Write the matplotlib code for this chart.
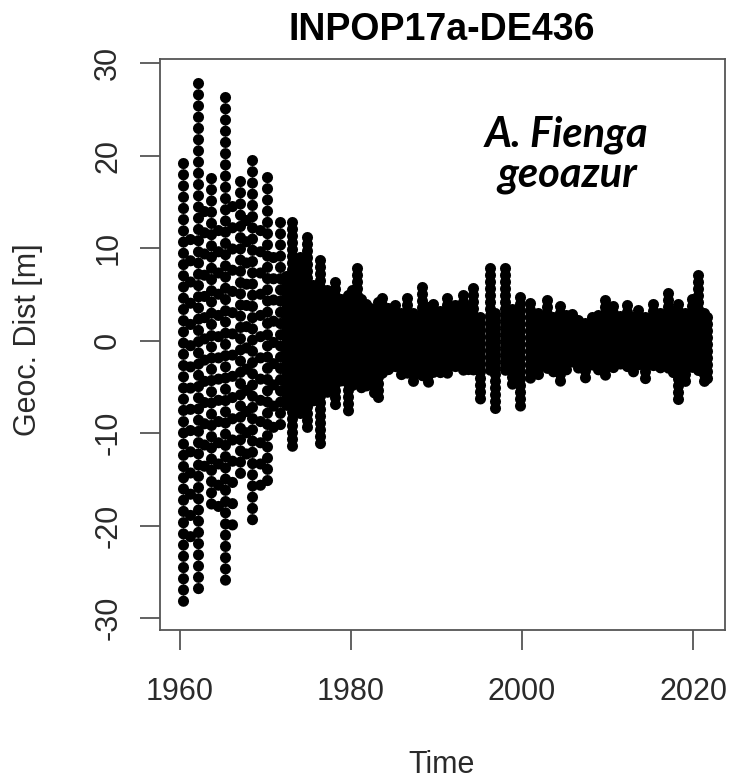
import matplotlib
matplotlib.use("Agg")
import matplotlib.pyplot as plt

# columns of points: time of column, highest and lowest point [m]
col_year = [1960.4, 1962.05, 1963.6, 1965.25, 1967.0, 1968.4, 1970.2, 1971.7,
            1972.4, 1973.15, 1974.0, 1974.9, 1975.6, 1976.35, 1977.2, 1978.1,
            1978.8, 1979.6, 1980.1, 1980.7, 1981.2, 1981.8, 1982.2, 1982.7,
            1983.2, 1983.6, 1984.3, 1985.1, 1985.8, 1986.5, 1987.3, 1988.3,
            1989.0, 1989.6, 1990.4, 1991.2, 1992.2, 1993.1, 1993.7, 1994.3,
            1995.1, 1996.3, 1996.8, 1998.0, 1998.8, 1999.8, 2000.9, 2001.9,
            2002.9, 2003.6, 2004.4, 2005.1, 2005.8, 2006.5, 2007.4, 2008.2,
            2008.9, 2009.7, 2010.6, 2011.5, 2012.3, 2013.0, 2013.6, 2014.4,
            2015.3, 2016.1, 2017.1, 2017.7, 2018.2, 2019.1, 2019.9, 2020.6,
            2021.3, 2021.6]
col_top = [19.2, 27.9, 17.6, 26.3, 17.3, 19.5, 17.7, 12.8,
           7.0, 12.8, 9.0, 11.2, 6.0, 8.7, 5.5, 6.3,
           4.5, 4.9, 5.5, 7.9, 4.5, 4.0, 3.5, 3.2,
           4.2, 4.6, 3.5, 3.8, 3.0, 4.6, 3.0, 5.8,
           3.6, 4.0, 3.2, 4.6, 3.8, 4.9, 3.5, 5.7,
           2.5, 7.8, 3.0, 7.9, 3.4, 4.7, 4.1, 3.0,
           4.4, 2.6, 3.7, 2.8, 2.9, 2.2, 1.9, 2.5,
           2.8, 4.4, 3.7, 2.7, 3.8, 2.5, 3.3, 2.6,
           4.0, 3.0, 5.1, 3.2, 4.0, 3.0, 4.5, 7.1,
           3.0, 2.6]
col_bot = [-28.9, -27.8, -18.3, -26.2, -15.3, -19.6, -15.6, -9.4,
           -7.0, -11.8, -8.0, -10.0, -7.0, -11.6, -6.0, -7.5,
           -5.0, -8.1, -5.0, -5.0, -5.5, -5.5, -4.5, -6.2,
           -6.3, -4.0, -3.6, -3.0, -4.2, -3.5, -4.8, -3.8,
           -4.5, -3.5, -4.0, -3.7, -3.0, -3.4, -3.6, -3.2,
           -6.8, -3.5, -7.5, -3.8, -5.0, -7.7, -4.5, -3.8,
           -3.2, -3.8, -4.5, -3.3, -3.0, -3.6, -4.0, -2.8,
           -3.5, -4.0, -3.4, -3.0, -3.2, -3.6, -3.0, -4.3,
           -3.0, -3.5, -3.0, -4.0, -6.8, -4.5, -3.2, -3.8,
           -4.5, -4.2]

# scattered points between the big early columns
mid_year = [1961.2, 1962.8, 1964.4, 1966.1, 1967.7, 1969.3, 1970.9]
mid_top = [11.0, 14.0, 12.0, 14.5, 13.0, 12.0, 9.0]
mid_bot = [-22.0, -15.0, -19.0, -21.5, -12.5, -16.0, -11.0]

x_ticks = [1960, 1980, 2000, 2020]
y_ticks = [-30, -20, -10, 0, 10, 20, 30]

plt.rcParams['font.family'] = ['Liberation Sans', 'DejaVu Sans']
plt.rcParams['axes.unicode_minus'] = False

fig = plt.figure(figsize=(7.3, 7.8), dpi=100)
ax = fig.add_axes([160 / 730, 1 - 630 / 780, 565 / 730, 571 / 780])

# each column is a stack of round dots (sparser in the early years)
for x, top, bot in zip(col_year, col_top, col_bot):
    gap = 1.0 if x < 1972 else 0.6
    ax.plot([x, x], [top, bot], color='black', linewidth=8,
            linestyle=(0, (0.01, gap)), dash_capstyle='round')
for x, top, bot in zip(mid_year, mid_top, mid_bot):
    ax.plot([x, x], [top, bot], color='black', linewidth=8,
            linestyle=(0, (0.01, 1.9)), dash_capstyle='round')

ax.set_xlim(1957.66, 2023.74)
ax.set_ylim(-31.3, 30.45)
ax.set_xticks(x_ticks)
ax.set_yticks(y_ticks)

for s in ax.spines.values():
    s.set_color('#555555')
    s.set_linewidth(1.3)
ax.tick_params(direction='out', length=14.5, width=1.3, color='#555555',
               labelsize=22, labelcolor='#2a2a2a')
ax.tick_params(axis='x', pad=19)
ax.tick_params(axis='y', pad=12, labelrotation=90)
for lab in ax.get_yticklabels():
    lab.set_va('center')

fig.text(442 / 730, 1 - 30 / 780, 'INPOP17a-DE436', ha='center', va='center',
         fontsize=27, fontweight='bold')
fig.text(442 / 730, 1 - 765 / 780, 'Time', ha='center', va='center',
         fontsize=22, color='#2a2a2a')
fig.text(28 / 730, 1 - 340 / 780, 'Geoc. Dist [m]', ha='center', va='center',
         rotation=90, fontsize=22, color='#2a2a2a')
fig.text(567 / 730, 1 - 155 / 780, 'A. Fienga\ngeoazur', ha='center', va='center',
         multialignment='center', fontsize=30, fontweight='bold', style='italic',
         family=['Lato', 'DejaVu Sans'], linespacing=1.05)

fig.savefig('out.png', dpi=100)
